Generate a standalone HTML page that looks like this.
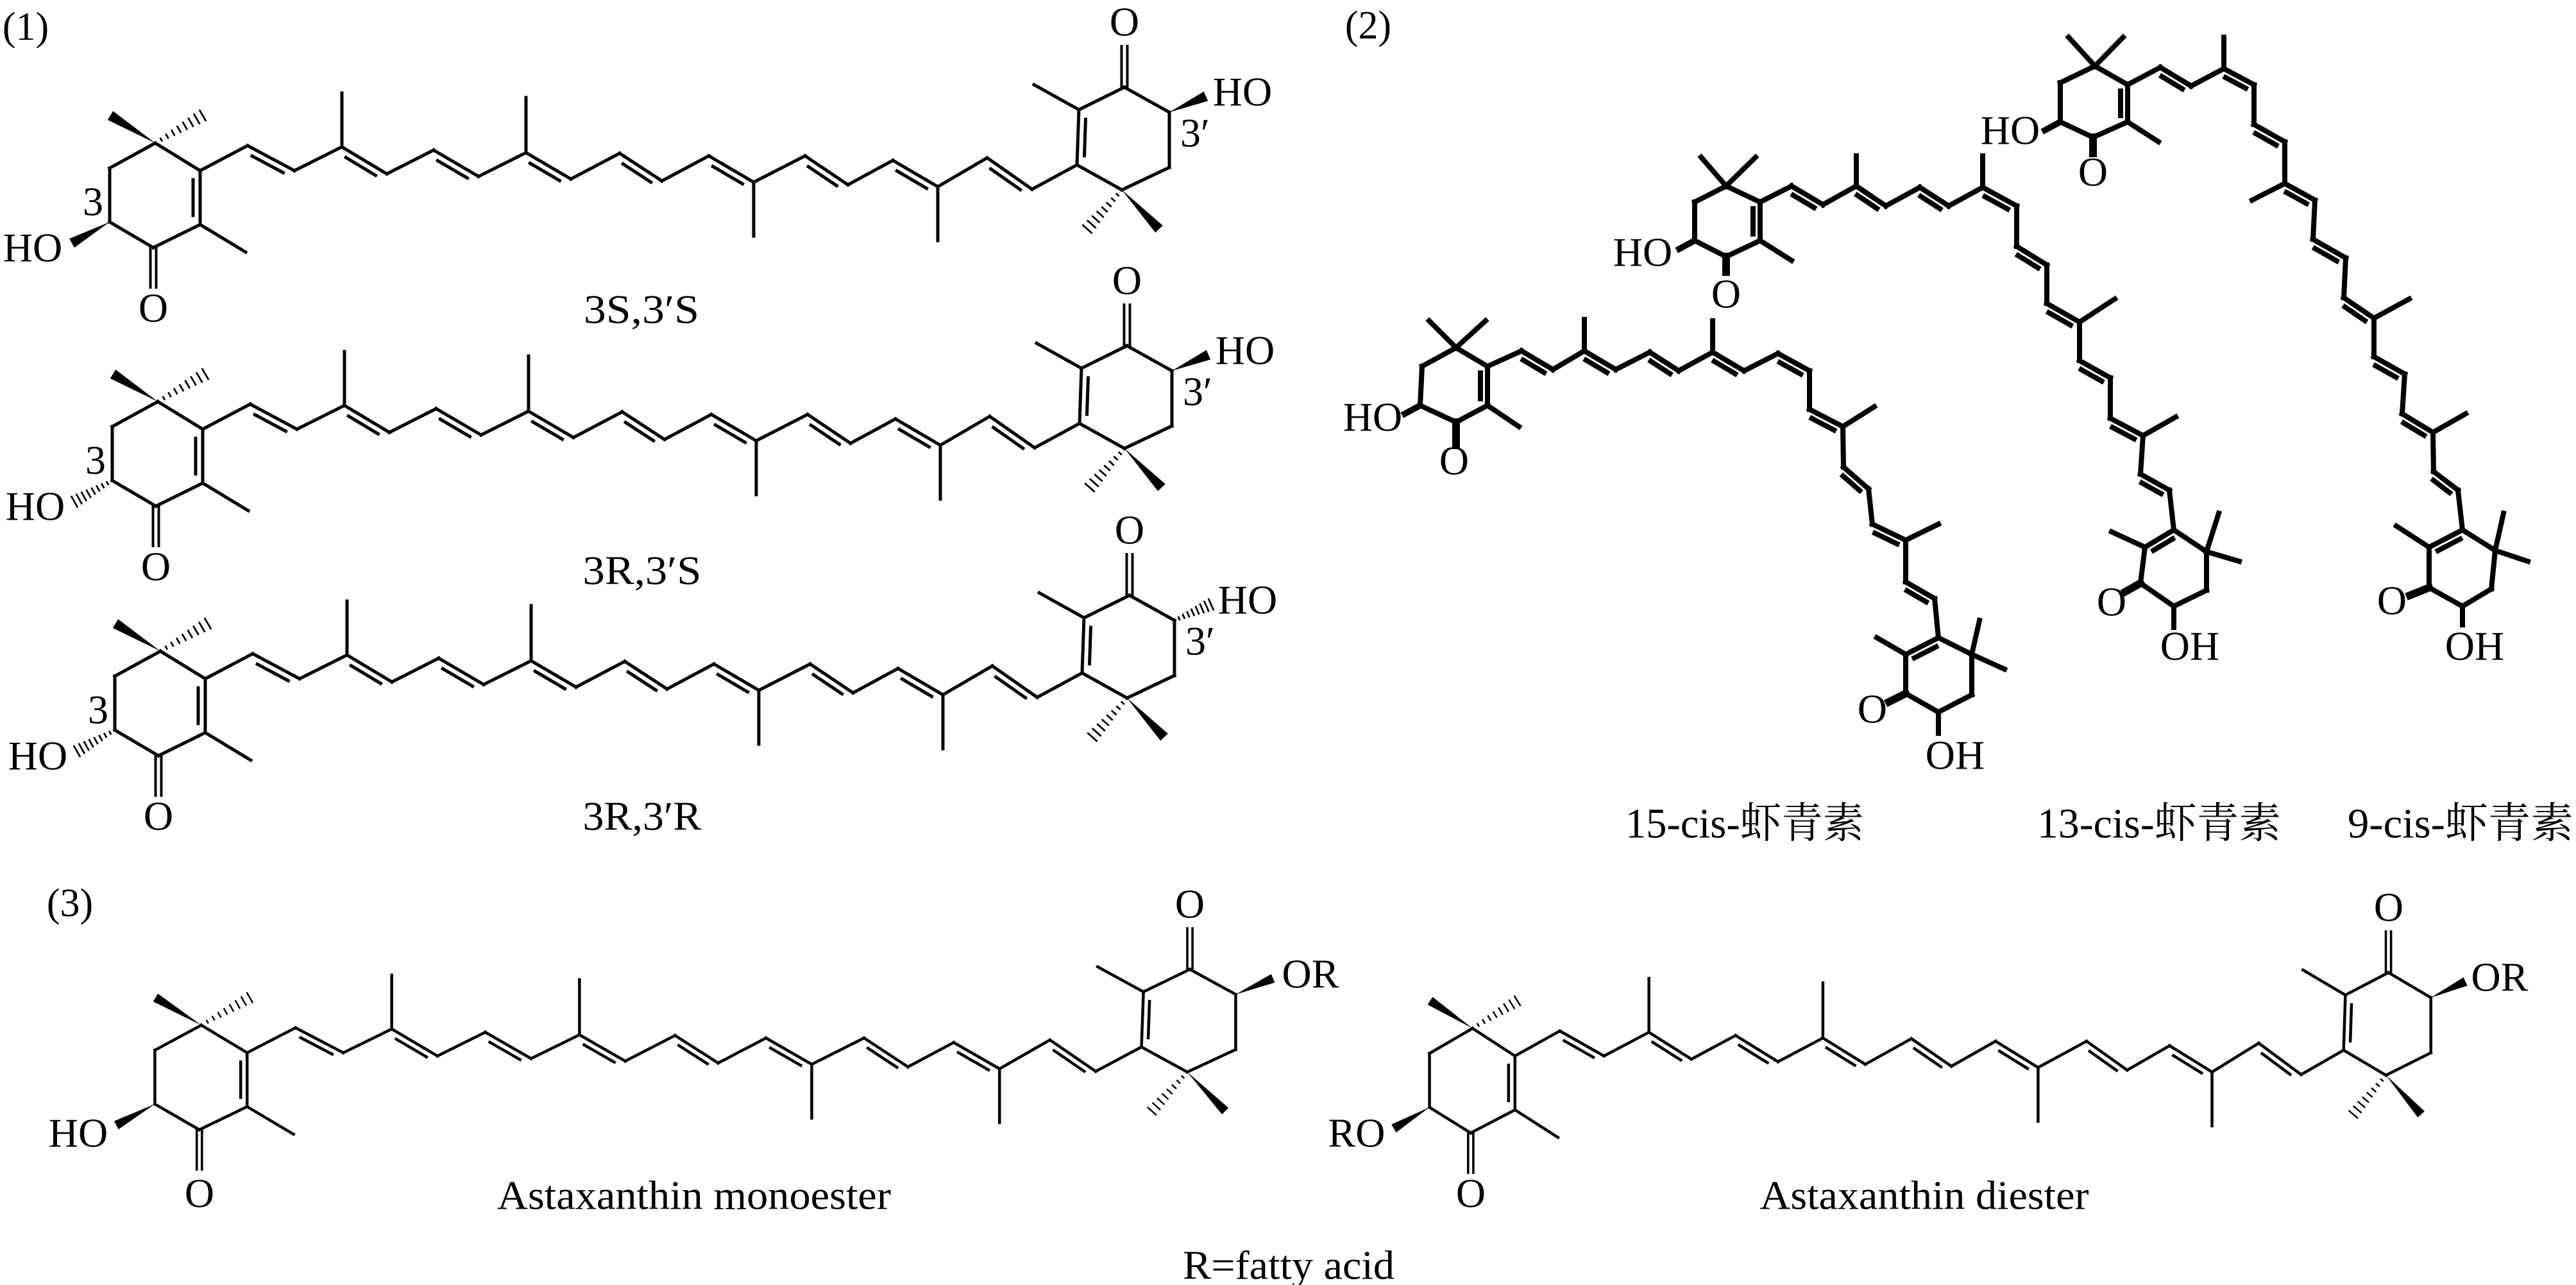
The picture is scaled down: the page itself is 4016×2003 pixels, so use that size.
<!DOCTYPE html>
<html><head><meta charset="utf-8">
<style>
html,body{margin:0;padding:0;background:#fff;}
svg{display:block;}
text{font-family:"Liberation Serif","Noto Serif CJK SC","Noto Sans CJK SC",serif;fill:#000;dominant-baseline:central;text-anchor:middle;}
</style></head>
<body>
<svg id="g" xmlns="http://www.w3.org/2000/svg" width="4016" height="2003" viewBox="0 0 4016 2003">
<rect width="4016" height="2003" fill="#fff"/>
<g font-size="64">
<text x="40" y="42" font-size="62">(1)</text>
<text x="2133" y="40" font-size="62">(2)</text>
<text x="109" y="1408" font-size="62">(3)</text>

<text x="51" y="386">HO</text>
<text x="145" y="314">3</text>
<text x="239" y="480">O</text>
<text x="1753" y="34">O</text>
<text x="1937" y="143">HO</text>
<text x="1863" y="207">3′</text>
<text x="1000" y="482" textLength="180" lengthAdjust="spacingAndGlyphs">3S,3′S</text>

<text x="55" y="789">HO</text>
<text x="149" y="717">3</text>
<text x="243" y="883">O</text>
<text x="1757" y="437">O</text>
<text x="1941" y="546">HO</text>
<text x="1867" y="610">3′</text>
<text x="1001" y="889" textLength="185" lengthAdjust="spacingAndGlyphs">3R,3′S</text>

<text x="59" y="1178">HO</text>
<text x="153" y="1106">3</text>
<text x="247" y="1272">O</text>
<text x="1761" y="826">O</text>
<text x="1945" y="935">HO</text>
<text x="1871" y="999">3′</text>
<text x="1001" y="1272" textLength="185" lengthAdjust="spacingAndGlyphs">3R,3′R</text>

<text x="2140" y="650">HO</text>
<text x="2267" y="718">O</text>
<text x="2919" y="1105">O</text>
<text x="3048" y="1177">OH</text>
<text x="2561" y="393">HO</text>
<text x="2691" y="458">O</text>
<text x="3292" y="938">O</text>
<text x="3414" y="1007">OH</text>
<text x="3134" y="203">HO</text>
<text x="3263" y="268">O</text>
<text x="3729" y="936">O</text>
<text x="3858" y="1007">OH</text>
<text x="2720" y="1284" font-size="66" textLength="372" lengthAdjust="spacingAndGlyphs">15-cis-虾青素</text>
<text x="3366" y="1284" font-size="66" textLength="380" lengthAdjust="spacingAndGlyphs">13-cis-虾青素</text>
<text x="3836" y="1284" font-size="66" textLength="352" lengthAdjust="spacingAndGlyphs">9-cis-虾青素</text>

<text x="122" y="1766">HO</text>
<text x="311" y="1860">O</text>
<text x="1855" y="1409">O</text>
<text x="2043" y="1518">OR</text>
<text x="1082" y="1863" textLength="614" lengthAdjust="spacingAndGlyphs">Astaxanthin monoester</text>
<text x="2115" y="1766">RO</text>
<text x="2293" y="1860">O</text>
<text x="3724" y="1414">O</text>
<text x="3897" y="1523">OR</text>
<text x="3000" y="1863" textLength="513" lengthAdjust="spacingAndGlyphs">Astaxanthin diester</text>
<text x="2009" y="1972" textLength="330" lengthAdjust="spacingAndGlyphs">R=fatty acid</text>
</g>
<g id="b"></g>
</svg>
<script>
(function(){
var NS='http://www.w3.org/2000/svg';
var G=document.getElementById('b');
function el(t,a){var e=document.createElementNS(NS,t);for(var k in a)e.setAttribute(k,a[k]);G.appendChild(e);return e;}
function L(a,b,w){el('line',{x1:a[0],y1:a[1],x2:b[0],y2:b[1],stroke:'#000','stroke-width':w,'stroke-linecap':'square'});}
function nrm(a,b){var dx=b[0]-a[0],dy=b[1]-a[1],l=Math.hypot(dx,dy)||1;return [-dy/l,dx/l];}
function D(a,b,ref,w,off){L(a,b,w);var n=nrm(a,b);var m=[(a[0]+b[0])/2,(a[1]+b[1])/2];
 if(ref){if(n[0]*(ref[0]-m[0])+n[1]*(ref[1]-m[1])<0)n=[-n[0],-n[1]];}else if(n[1]<0)n=[-n[0],-n[1]];
 var s=0.17;var p=[a[0]+(b[0]-a[0])*s+n[0]*off,a[1]+(b[1]-a[1])*s+n[1]*off],q=[b[0]-(b[0]-a[0])*s+n[0]*off,b[1]-(b[1]-a[1])*s+n[1]*off];L(p,q,w);}
function CO(a,b,w,off){var n=nrm(a,b);L([a[0]+n[0]*off,a[1]+n[1]*off],[b[0]+n[0]*off,b[1]+n[1]*off],w);L([a[0]-n[0]*off,a[1]-n[1]*off],[b[0]-n[0]*off,b[1]-n[1]*off],w);}
function W(a,b,wd){var n=nrm(a,b);el('polygon',{points:a[0]+','+a[1]+' '+(b[0]+n[0]*wd/2)+','+(b[1]+n[1]*wd/2)+' '+(b[0]-n[0]*wd/2)+','+(b[1]-n[1]*wd/2),fill:'#000'});}
function H(a,b,wd,w){var n=nrm(a,b);for(var i=1;i<=8;i++){var t=i/8;var c=[a[0]+(b[0]-a[0])*t,a[1]+(b[1]-a[1])*t];var h=wd/2*t+1;L([c[0]+n[0]*h,c[1]+n[1]*h],[c[0]-n[0]*h,c[1]-n[1]*h],w*0.55);}}

var M={C1:[242,223],C2:[171,262],C3:[171,346],C4:[239,386],C5:[312,350],C6:[312,266],
 Me1a:[172,180],Me1b:[316,180],Me5:[383,393],O4:[239,448],OH3:[112,379],
 R6:[1679,257],R5:[1682,171],RMe5:[1612,132],R4:[1753,136],RO4:[1753,72],R3:[1823,175],ROH3:[1880,150],R2:[1823,261],R1:[1749,296],RMa:[1695,357],RMb:[1807,357]};
var CH=[[312,266],[386,227],[459,266],[533,229],[603,271],[676,234],[746,275],[820,238],[890,279],[966,239],[1032,282],[1105,243],[1175,284],[1255,243],[1322,288],[1392,250],[1462,291],[1539,246],[1609,295],[1679,257]];
var CHME={3:[533,145],7:[820,152],12:[1175,368],16:[1462,375]};
function asta(T,w,off,left,right){
 var P=function(k){return T(M[k]);};
 var cl=T([(M.C1[0]+M.C4[0])/2,(M.C1[1]+M.C4[1])/2]);
 L(P('C1'),P('C2'),w);L(P('C2'),P('C3'),w);L(P('C3'),P('C4'),w);L(P('C4'),P('C5'),w);D(P('C5'),P('C6'),cl,w,off);L(P('C6'),P('C1'),w);
 W(P('C1'),P('Me1a'),w*3.2);H(P('C1'),P('Me1b'),w*3.2,w);
 L(P('C5'),P('Me5'),w);CO(P('C4'),P('O4'),w*0.8,w*0.9);
 if(left=='w')W(P('C3'),P('OH3'),w*3.2);else H(P('C3'),P('OH3'),w*3.2,w);
 var cr=T([(M.R1[0]+M.R4[0])/2,(M.R1[1]+M.R4[1])/2]);
 D(P('R6'),P('R5'),cr,w,off);L(P('R5'),P('R4'),w);L(P('R4'),P('R3'),w);L(P('R3'),P('R2'),w);L(P('R2'),P('R1'),w);L(P('R1'),P('R6'),w);
 L(P('R5'),P('RMe5'),w);CO(P('R4'),P('RO4'),w*0.8,w*0.9);
 H(P('R1'),P('RMa'),w*3.2,w);W(P('R1'),P('RMb'),w*3.2);
 if(right=='w')W(P('R3'),P('ROH3'),w*3.2);else H(P('R3'),P('ROH3'),w*3.2,w);
 for(var i=0;i<CH.length-1;i++){var a=T(CH[i]),b=T(CH[i+1]);if(i%2==1)D(a,b,null,w,off);else L(a,b,w);}
 for(var k in CHME)L(T(CH[k]),T(CHME[k]),w);
}
function tr(dx,dy,sx){sx=sx||1;return function(p){return [p[0]*sx+dx,p[1]+dy];};}
asta(tr(0,0),5,11,'w','w');
asta(tr(4,403),5,11,'h','w');
asta(tr(8,792),5,11,'h','h');
asta(tr(67,1375,1.02),4.5,10,'w','w');
asta(tr(2067,1380,0.945),4.5,10,'w','w');

function p2(r,chain,me,rr,w){
 var off=11;
 var cl=[(r.C1[0]+r.C4[0])/2,(r.C1[1]+r.C4[1])/2];
 L(r.C1,r.C2,w);L(r.C2,r.C3,w);L(r.C3,r.C4,w);L(r.C4,r.C5,w);D(r.C5,r.C6,cl,w,off);L(r.C6,r.C1,w);
 L(r.C1,r.Ma,w);L(r.C1,r.Mb,w);L(r.C5,r.M5,w);L(r.C4,r.O,w*1.5);L(r.C3,r.HO,w*1.2);
 for(var i=0;i<chain.length-1;i++){if(i%2==1)D(chain[i],chain[i+1],null,w,off);else L(chain[i],chain[i+1],w);}
 for(var k in me)L(chain[k],me[k],w);
 var cr=[(rr.C1[0]+rr.C4[0])/2,(rr.C1[1]+rr.C4[1])/2];
 D(rr.C6,rr.C5,cr,w,off);L(rr.C5,rr.C4,w);L(rr.C4,rr.C3,w);L(rr.C3,rr.C2,w);L(rr.C2,rr.C1,w);L(rr.C1,rr.C6,w);
 L(rr.C5,rr.M5,w);L(rr.C1,rr.Ma,w);L(rr.C1,rr.Mb,w);L(rr.C4,rr.O,w*1.5);L(rr.C3,rr.OH,w);
}
var w2=8;
p2({C1:[2270,542],C2:[2217,571],C3:[2214,632],C4:[2270,658],C5:[2319,632],C6:[2319,571],Ma:[2228,500],Mb:[2316,500],M5:[2368,665],O:[2270,694],HO:[2190,645]},
 [[2319,571],[2372,547],[2421,576],[2470,547],[2519,576],[2572,549],[2617,578],[2670,549],[2719,578],[2772,551],[2821,578],[2821,638],[2873,665],[2874,728],[2913,762],[2919,817],[2971,842],[2971,907],[3016,933],[3022,994]],
 {3:[2470,498],7:[2670,500],12:[2922,634],16:[3022,817]},
 {C6:[3022,994],C5:[2971,1020],M5:[2926,994],C4:[2971,1081],O:[2945,1094],C3:[3022,1110],OH:[3022,1143],C2:[3074,1083],C1:[3074,1020],Ma:[3086,967],Mb:[3125,1043]},w2);
p2({C1:[2691,290],C2:[2642,315],C3:[2642,375],C4:[2691,400],C5:[2744,375],C6:[2744,315],Ma:[2652,245],Mb:[2737,245],M5:[2793,406],O:[2691,424],HO:[2618,388]},
 [[2744,315],[2793,290],[2842,319],[2894,290],[2940,321],[2993,292],[3038,321],[3091,292],[3144,321],[3144,384],[3191,413],[3191,473],[3242,502],[3242,562],[3290,589],[3290,652],[3341,679],[3337,739],[3382,764],[3389,826]],
 {3:[2894,243],7:[3091,243],12:[3297,466],16:[3392,650]},
 {C6:[3389,826],C5:[3344,853],M5:[3292,829],C4:[3337,909],O:[3314,922],C3:[3389,945],OH:[3389,978],C2:[3440,920],C1:[3440,860],Ma:[3459,800],Mb:[3491,875]},w2);
p2({C1:[3266,103],C2:[3212,129],C3:[3212,190],C4:[3263,214],C5:[3317,190],C6:[3317,132],Ma:[3225,58],Mb:[3310,58],M5:[3365,221],O:[3263,239],HO:[3188,203]},
 [[3317,132],[3368,105],[3416,134],[3467,107],[3514,132],[3514,194],[3562,221],[3562,286],[3609,312],[3606,373],[3657,402],[3654,464],[3701,496],[3701,556],[3749,583],[3745,645],[3793,674],[3794,735],[3832,764],[3839,826]],
 {3:[3467,58],7:[3511,312],12:[3756,466],16:[3844,645]},
 {C6:[3839,826],C5:[3787,853],M5:[3736,820],C4:[3787,916],O:[3757,928],C3:[3839,945],OH:[3839,974],C2:[3884,918],C1:[3890,858],Ma:[3903,800],Mb:[3941,875]},w2);
})();
</script>
</body></html>
